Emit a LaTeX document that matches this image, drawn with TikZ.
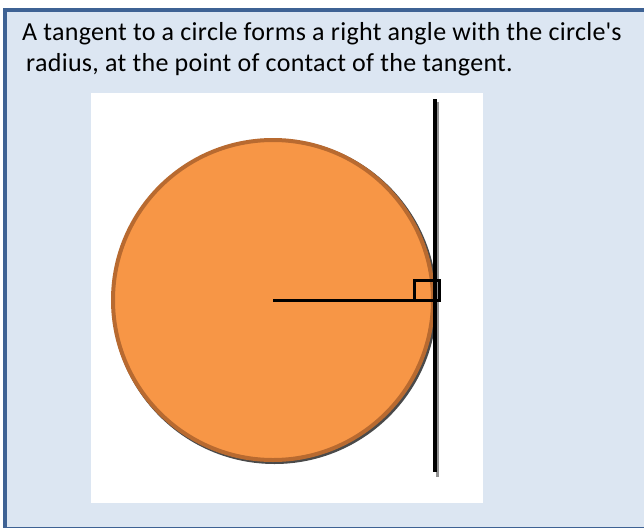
\documentclass[tikz,border=0pt]{standalone}
\usepackage{fontspec}
\setmainfont{Carlito}
\definecolor{panelbg}{HTML}{DCE6F2}
\definecolor{panelborder}{HTML}{3E6294}
\definecolor{discfill}{HTML}{F79646}
\definecolor{discedge}{HTML}{B86A30}
\definecolor{shadowgray}{HTML}{4A4A4A}
\tikzset{
  panel/.style={fill=panelbg, draw=panelborder, line width=3.5pt},
  picframe/.style={fill=white, draw=none},
  disc/.style={circle, fill=discfill, draw=discedge, line width=4pt, minimum size=320pt, inner sep=0pt},
  discshadow/.style={circle, fill=shadowgray, minimum size=325pt, inner sep=0pt},
  tangentline/.style={black, line width=4pt},
  tangentshadow/.style={shadowgray!60, line width=3pt},
  radiusline/.style={black, line width=3pt},
  rightmark/.style={black, line width=3pt},
  caption/.style={anchor=base west, align=left, inner sep=0pt, font=\fontsize{26}{30.5}\selectfont\addfontfeatures{LetterSpace=1.2}}
}
\begin{document}
\begin{tikzpicture}[x=1pt,y=-1pt]
\useasboundingbox (0,0) rectangle (644,527);
\fill[white] (0,0) rectangle (644,527);
\draw[panel] (5,10) rectangle (700,529);
\node[caption] (txt1) at (22,41) {A tangent to a circle forms a right angle with the circle\textquotesingle s};
\node[caption] (txt2) at (26,71.5) {radius, at the point of contact of the tangent.};
\fill[picframe] (91,93) rectangle (483,503);
% disc with shadow
\node[discshadow] (csh) at (274.5,301.5) {};
\node[disc] (c) at (273,300) {};
% tangent line
\coordinate (tshTop) at (437.5,102);
\coordinate (tshBot) at (437.5,477);
\draw[tangentshadow] (tshTop) -- (tshBot);
\coordinate (tTop) at (434.5,99);
\coordinate (tBot) at (434.5,472);
\draw[tangentline] (tTop) -- (tBot);
% radius
\coordinate (P) at (434.5,300);
\draw[radiusline] (c.center) -- (P);
% right angle mark
\coordinate (sqA) at (414.5,280.5);
\coordinate (sqB) at (439.5,300);
\draw[rightmark] (sqA) rectangle (sqB);
\end{tikzpicture}
\end{document}
